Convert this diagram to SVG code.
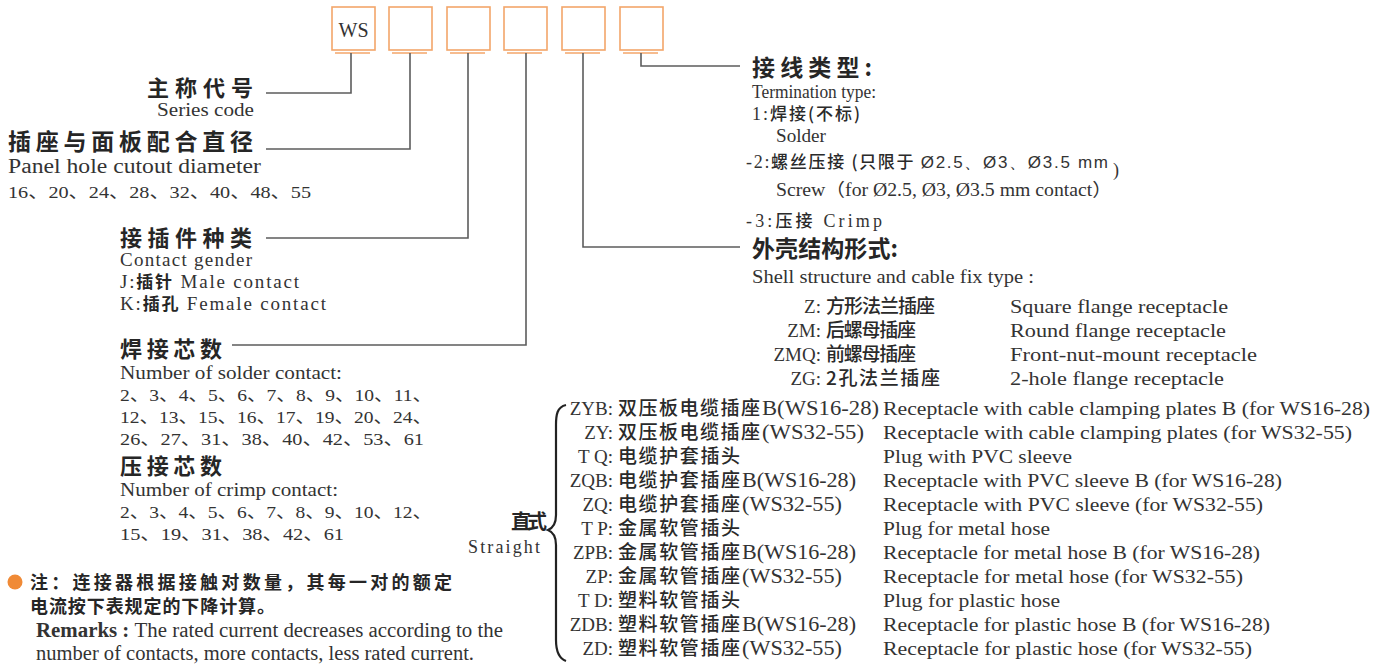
<svg xmlns="http://www.w3.org/2000/svg" width="1388" height="666" viewBox="0 0 1388 666">
<style>
.cn{font-family:"Noto Sans CJK SC","Noto Sans",sans-serif;font-weight:700;fill:#262626}
.cm{font-family:"Noto Sans CJK SC","Noto Sans",sans-serif;font-weight:500;fill:#2a2a2a}
.en{font-family:"Liberation Serif","Noto Sans CJK SC",serif;fill:#333}
.ln{stroke:#5c5c5c;stroke-width:1.6;fill:none}
.box{fill:#fff;stroke:#f3a66a;stroke-width:1.6}
.bar{stroke:#f3a66a;stroke-width:1.6}
.h{font-size:22px}
.s{font-size:18px}
</style>
<rect width="1388" height="666" fill="#fff"/>
<g id="code-boxes">
<g id="box-ws"><rect class="box" x="332" y="7" width="43" height="43"/><line class="bar" x1="335" y1="53" x2="370" y2="53"/><text class="en" x="353.5" y="37" font-size="20" text-anchor="middle">WS</text></g>
<g id="box-2"><rect class="box" x="389" y="7" width="43" height="43"/><line class="bar" x1="392" y1="53" x2="427" y2="53"/></g>
<g id="box-3"><rect class="box" x="447" y="7" width="43" height="43"/><line class="bar" x1="450" y1="53" x2="485" y2="53"/></g>
<g id="box-4"><rect class="box" x="504" y="7" width="43" height="43"/><line class="bar" x1="507" y1="53" x2="542" y2="53"/></g>
<g id="box-5"><rect class="box" x="562" y="7" width="43" height="43"/><line class="bar" x1="565" y1="53" x2="600" y2="53"/></g>
<g id="box-6"><rect class="box" x="620" y="7" width="43" height="43"/><line class="bar" x1="623" y1="53" x2="658" y2="53"/></g>
</g>
<g id="connectors">
<path class="ln" d="M351,53 V93 H266"/>
<path class="ln" d="M410,53 V149 H266"/>
<path class="ln" d="M468,53 V238 H266"/>
<path class="ln" d="M526,53 V345 H232"/>
<path class="ln" d="M583,53 V247 H740"/>
<path class="ln" d="M641,53 V66 H740"/>
</g>
<g id="series-code">
<text class="cn h" x="147" y="96" textLength="106" lengthAdjust="spacing">主称代号</text>
<text class="en s" x="157" y="116" textLength="97" lengthAdjust="spacingAndGlyphs">Series code</text>
</g>
<g id="panel-diameter">
<text class="cn" font-size="23" x="8" y="150" textLength="245" lengthAdjust="spacing">插座与面板配合直径</text>
<text class="en" font-size="20" x="8" y="173" textLength="253" lengthAdjust="spacingAndGlyphs">Panel hole cutout diameter</text>
<text class="en" font-size="17" x="8" y="198" textLength="303" lengthAdjust="spacingAndGlyphs">16、20、24、28、32、40、48、55</text>
</g>
<g id="contact-gender">
<text class="cn h" x="120" y="246" textLength="132" lengthAdjust="spacing">接插件种类</text>
<text class="en" font-size="19" x="120" y="266" textLength="132" lengthAdjust="spacing">Contact gender</text>
<text class="en" font-size="19" x="120" y="288" textLength="179" lengthAdjust="spacing"><tspan>J:</tspan><tspan class="cn" font-size="17">插针</tspan><tspan> Male contact</tspan></text>
<text class="en" font-size="19" x="120" y="310" textLength="206" lengthAdjust="spacing"><tspan>K:</tspan><tspan class="cn" font-size="17">插孔</tspan><tspan> Female contact</tspan></text>
</g>
<g id="solder-count">
<text class="cn h" x="120" y="357" textLength="102" lengthAdjust="spacing">焊接芯数</text>
<text class="en s" x="120" y="379" textLength="222" lengthAdjust="spacingAndGlyphs">Number of solder contact:</text>
<text class="en" font-size="17" x="120" y="401" textLength="312" lengthAdjust="spacingAndGlyphs">2、3、4、5、6、7、8、9、10、11、</text>
<text class="en" font-size="17" x="120" y="423" textLength="312" lengthAdjust="spacingAndGlyphs">12、13、15、16、17、19、20、24、</text>
<text class="en" font-size="17" x="120" y="445" textLength="304" lengthAdjust="spacingAndGlyphs">26、27、31、38、40、42、53、61</text>
</g>
<g id="crimp-count">
<text class="cn h" x="120" y="474" textLength="102" lengthAdjust="spacing">压接芯数</text>
<text class="en s" x="120" y="496" textLength="218" lengthAdjust="spacingAndGlyphs">Number of crimp contact:</text>
<text class="en" font-size="17" x="120" y="518" textLength="312" lengthAdjust="spacingAndGlyphs">2、3、4、5、6、7、8、9、10、12、</text>
<text class="en" font-size="17" x="120" y="540" textLength="224" lengthAdjust="spacingAndGlyphs">15、19、31、38、42、61</text>
</g>
<g id="note">
<circle cx="15" cy="582" r="7.5" fill="#f08a36"/>
<text class="cn" font-size="18" x="30" y="589" textLength="422" lengthAdjust="spacing">注：连接器根据接触对数量，其每一对的额定</text>
<text class="cn" font-size="18" x="30" y="613" textLength="245" lengthAdjust="spacing">电流按下表规定的下降计算。</text>
<text class="en" font-size="20" x="36" y="637" textLength="467" lengthAdjust="spacingAndGlyphs"><tspan font-weight="700">Remarks : </tspan><tspan>The rated current decreases according to the</tspan></text>
<text class="en" font-size="20" x="36" y="660" textLength="438" lengthAdjust="spacingAndGlyphs">number of contacts, more contacts, less rated current.</text>
</g>
<g id="straight">
<text class="cn" font-size="20" x="511" y="529" textLength="36" lengthAdjust="spacing">直式</text>
<text class="en" font-size="18" x="468" y="553" textLength="72" lengthAdjust="spacing">Straight</text>
<path d="M566,405 C557,407 556,415 556,425 L556,515 C556,524 553,528 548,530 C553,532 556,536 556,545 L556,640 C556,650 558,658 566,661" fill="none" stroke="#222" stroke-width="2.2"/>
</g>
<g id="termination">
<text class="cn" font-size="23" x="752" y="76" textLength="120" lengthAdjust="spacing">接线类型:</text>
<text class="en s" x="752" y="98" textLength="124" lengthAdjust="spacingAndGlyphs">Termination type:</text>
<text class="en s" x="752" y="120" textLength="108" lengthAdjust="spacing"><tspan>1:</tspan><tspan class="cm" font-size="17">焊接(不标)</tspan></text>
<text class="en s" x="776" y="142" textLength="50" lengthAdjust="spacingAndGlyphs">Solder</text>
<text class="en s" x="746" y="168" textLength="362" lengthAdjust="spacing"><tspan>-2:</tspan><tspan class="cm" font-size="17">螺丝压接 (只限于 </tspan><tspan font-family="Liberation Sans, sans-serif" font-size="17">Ø2.5、Ø3、Ø3.5 mm</tspan></text>
<text class="en s" x="1113" y="176">)</text>
<text class="en s" x="776" y="196" textLength="336" lengthAdjust="spacingAndGlyphs">Screw（for Ø2.5, Ø3, Ø3.5 mm contact）</text>
<text class="en s" x="746" y="227" textLength="136" lengthAdjust="spacing"><tspan>-3:</tspan><tspan class="cm" font-size="17">压接</tspan><tspan> Crimp</tspan></text>
</g>
<g id="shell-structure">
<text class="cn" font-size="23" x="752" y="257" textLength="146" lengthAdjust="spacing">外壳结构形式:</text>
<text class="en s" x="752" y="283" textLength="282" lengthAdjust="spacingAndGlyphs">Shell structure and  cable fix type :</text>
<g id="mount-types" font-size="19">
<text class="en" x="821" y="313" text-anchor="end">Z:</text><text class="cm" x="826" y="313" textLength="109" lengthAdjust="spacing">方形法兰插座</text><text class="en" x="1010" y="313" textLength="218" lengthAdjust="spacingAndGlyphs">Square flange receptacle</text>
<text class="en" x="821" y="337" text-anchor="end">ZM:</text><text class="cm" x="826" y="337" textLength="90" lengthAdjust="spacing">后螺母插座</text><text class="en" x="1010" y="337" textLength="216" lengthAdjust="spacingAndGlyphs">Round flange receptacle</text>
<text class="en" x="821" y="361" text-anchor="end">ZMQ:</text><text class="cm" x="826" y="361" textLength="90" lengthAdjust="spacing">前螺母插座</text><text class="en" x="1010" y="361" textLength="247" lengthAdjust="spacingAndGlyphs">Front-nut-mount receptacle</text>
<text class="en" x="821" y="385" text-anchor="end">ZG:</text><text class="cm" x="826" y="385" textLength="114" lengthAdjust="spacing">2孔法兰插座</text><text class="en" x="1010" y="385" textLength="214" lengthAdjust="spacingAndGlyphs">2-hole flange receptacle</text>
</g>
<g id="cable-types" font-size="19">
<text class="en" x="613" y="415" text-anchor="end">ZYB:</text><text class="cm" x="618" y="415" textLength="142" lengthAdjust="spacing">双压板电缆插座</text><text class="en" x="762" y="415" font-size="20" textLength="117" lengthAdjust="spacingAndGlyphs">B(WS16-28)</text><text class="en" x="883" y="415" textLength="487" lengthAdjust="spacingAndGlyphs">Receptacle with cable clamping plates B (for WS16-28)</text>
<text class="en" x="613" y="439" text-anchor="end">ZY:</text><text class="cm" x="618" y="439" textLength="142" lengthAdjust="spacing">双压板电缆插座</text><text class="en" x="762" y="439" font-size="20" textLength="102" lengthAdjust="spacingAndGlyphs">(WS32-55)</text><text class="en" x="883" y="439" textLength="469" lengthAdjust="spacingAndGlyphs">Receptacle with cable clamping plates (for WS32-55)</text>
<text class="en" x="613" y="463" text-anchor="end">T Q:</text><text class="cm" x="618" y="463" textLength="122" lengthAdjust="spacing">电缆护套插头</text><text class="en" x="883" y="463" textLength="189" lengthAdjust="spacingAndGlyphs">Plug with PVC sleeve</text>
<text class="en" x="613" y="487" text-anchor="end">ZQB:</text><text class="cm" x="618" y="487" textLength="122" lengthAdjust="spacing">电缆护套插座</text><text class="en" x="742" y="487" font-size="20" textLength="114" lengthAdjust="spacingAndGlyphs">B(WS16-28)</text><text class="en" x="883" y="487" textLength="399" lengthAdjust="spacingAndGlyphs">Receptacle with PVC sleeve B (for WS16-28)</text>
<text class="en" x="613" y="511" text-anchor="end">ZQ:</text><text class="cm" x="618" y="511" textLength="122" lengthAdjust="spacing">电缆护套插座</text><text class="en" x="742" y="511" font-size="20" textLength="100" lengthAdjust="spacingAndGlyphs">(WS32-55)</text><text class="en" x="883" y="511" textLength="380" lengthAdjust="spacingAndGlyphs">Receptacle with PVC sleeve (for WS32-55)</text>
<text class="en" x="613" y="535" text-anchor="end">T P:</text><text class="cm" x="618" y="535" textLength="122" lengthAdjust="spacing">金属软管插头</text><text class="en" x="883" y="535" textLength="167" lengthAdjust="spacingAndGlyphs">Plug for metal hose</text>
<text class="en" x="613" y="559" text-anchor="end">ZPB:</text><text class="cm" x="618" y="559" textLength="122" lengthAdjust="spacing">金属软管插座</text><text class="en" x="742" y="559" font-size="20" textLength="114" lengthAdjust="spacingAndGlyphs">B(WS16-28)</text><text class="en" x="883" y="559" textLength="377" lengthAdjust="spacingAndGlyphs">Receptacle for metal hose B (for WS16-28)</text>
<text class="en" x="613" y="583" text-anchor="end">ZP:</text><text class="cm" x="618" y="583" textLength="122" lengthAdjust="spacing">金属软管插座</text><text class="en" x="742" y="583" font-size="20" textLength="100" lengthAdjust="spacingAndGlyphs">(WS32-55)</text><text class="en" x="883" y="583" textLength="360" lengthAdjust="spacingAndGlyphs">Receptacle for metal hose (for WS32-55)</text>
<text class="en" x="613" y="607" text-anchor="end">T D:</text><text class="cm" x="618" y="607" textLength="122" lengthAdjust="spacing">塑料软管插头</text><text class="en" x="883" y="607" textLength="177" lengthAdjust="spacingAndGlyphs">Plug for plastic hose</text>
<text class="en" x="613" y="631" text-anchor="end">ZDB:</text><text class="cm" x="618" y="631" textLength="122" lengthAdjust="spacing">塑料软管插座</text><text class="en" x="742" y="631" font-size="20" textLength="114" lengthAdjust="spacingAndGlyphs">B(WS16-28)</text><text class="en" x="883" y="631" textLength="387" lengthAdjust="spacingAndGlyphs">Receptacle for plastic hose B (for WS16-28)</text>
<text class="en" x="613" y="655" text-anchor="end">ZD:</text><text class="cm" x="618" y="655" textLength="122" lengthAdjust="spacing">塑料软管插座</text><text class="en" x="742" y="655" font-size="20" textLength="100" lengthAdjust="spacingAndGlyphs">(WS32-55)</text><text class="en" x="883" y="655" textLength="369" lengthAdjust="spacingAndGlyphs">Receptacle for plastic hose (for WS32-55)</text>
</g>
</g>
</svg>
